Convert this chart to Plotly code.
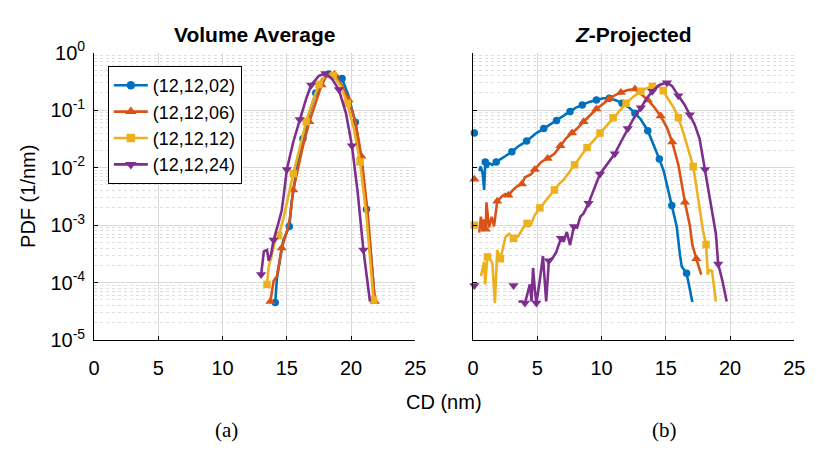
import plotly.graph_objects as go

# ---------------- data ----------------
names = ["(12,12,02)", "(12,12,06)", "(12,12,12)", "(12,12,24)"]
colors = ["#0072BD", "#D95319", "#EDB120", "#7E2F8E"]
symbols = ["circle", "triangle-up", "square", "triangle-down"]

x_ticks = [0, 5, 10, 15, 20, 25]
y_tickvals = [1e-5, 1e-4, 1e-3, 1e-2, 1e-1, 1]
y_ticktext = ["10<sup>-5</sup>", "10<sup>-4</sup>", "10<sup>-3</sup>",
              "10<sup>-2</sup>", "10<sup>-1</sup>", "10<sup>0</sup>"]

# (a) Volume Average
va_x_02 = [14.1, 14.23, 14.5, 14.73, 15.19, 15.37, 15.75, 16.25, 16.75, 17.25,
           17.75, 18.25, 18.75, 19.3, 19.8, 20.33, 20.8, 21.2, 21.5, 21.85]
va_y_02 = [4.5e-5, 1.2e-4, 2.8e-4, 5.5e-4, 9.5e-4, 2.5e-3, 8.9e-3, 0.032, 0.089, 0.2,
           0.347, 0.427, 0.417, 0.355, 0.178, 0.062, 0.0141, 0.0019, 4e-4, 4.7e-5]

va_x_06 = [13.72, 13.97, 14.23, 14.6, 14.95, 15.24, 15.5, 15.9, 16.26, 16.75,
           17.28, 17.7, 18.2, 18.7, 19.25, 19.8, 20.33, 20.8, 21.3, 21.85]
va_y_06 = [4.7e-5, 1.07e-4, 1.29e-4, 4e-4, 7.1e-4, 1.3e-3, 4.1e-3, 0.0112, 0.024, 0.063,
           0.138, 0.275, 0.437, 0.417, 0.282, 0.151, 0.065, 0.0158, 1.6e-3, 4.7e-5]

va_x_12 = [13.46, 13.59, 13.8, 14.1, 14.36, 14.73, 15.12, 15.5, 16.0, 16.5,
           17.0, 17.5, 18.1, 18.6, 19.2, 19.7, 20.2, 20.7, 21.2, 21.75]
va_y_12 = [9.3e-5, 1.9e-4, 2.8e-4, 5.5e-4, 6.6e-4, 1.3e-3, 3.2e-3, 7.9e-3, 0.022, 0.063,
           0.141, 0.282, 0.427, 0.398, 0.263, 0.132, 0.05, 0.0126, 1.4e-3, 5e-5]

va_x_24 = [13.0, 13.21, 13.46, 13.59, 13.77, 13.97, 14.36, 14.6, 14.75, 15.0, 15.5, 16.0,
           16.5, 16.9, 17.5, 18.0, 18.5, 19.05, 19.6, 20.07, 20.5, 20.96, 21.47]
va_y_24 = [1.38e-4, 3.5e-4, 3.7e-4, 2.4e-4, 3.1e-4, 5.5e-4, 1.12e-3, 1.8e-3, 3.2e-3, 9.3e-3,
           0.028, 0.069, 0.158, 0.275, 0.398, 0.437, 0.355, 0.229, 0.089, 0.024, 4e-3,
           3.7e-4, 4.7e-5]

# (b) Z-Projected  (None = empty bin, gap in line)
zp_x_02 = [0.1, None, 0.48, 0.6, 0.75, 0.86, 0.95, 1.1, 1.25, 1.5, 1.8, 2.13, 2.5, 3.02,
           3.5, 4.17, 4.5, 4.93, 5.5, 6.07, 6.5, 7.09, 7.55, 7.98, 8.5, 8.99, 9.6, 10.14,
           10.6, 11.15, 11.6, 12.17, 12.6, 13.06, 13.6, 14.07, 14.5, 14.84, 15.09, 15.47,
           15.85, 16.1, 16.24, 16.62, 16.87, 17.07]
zp_y_02 = [0.04, None, 0.0087, 0.0105, 0.0079, 0.0041, 0.0126, 0.01, 0.012, 0.0112, 0.0126,
           0.0138, 0.0158, 0.019, 0.0234, 0.029, 0.033, 0.040, 0.048, 0.058, 0.066, 0.083,
           0.095, 0.11, 0.123, 0.138, 0.151, 0.162, 0.162, 0.148, 0.132, 0.11, 0.089, 0.069,
           0.044, 0.025, 0.0141, 0.0087, 0.0051, 0.0022, 9.5e-4, 3.1e-4, 1.9e-4, 1.45e-4,
           7.2e-5, 4.6e-5]

zp_x_06 = [0.1, None, 0.48, 0.61, 0.74, 0.86, 0.99, 1.04, 1.24, 1.45, 1.63, 1.88, 2.26, 2.5,
           2.75, 3.02, 3.4, 3.8, 4.04, 4.5, 4.8, 5.31, 5.8, 6.33, 6.8, 7.22, 7.7, 8.1, 8.6,
           9.12, 9.6, 10.14, 10.6, 11.03, 11.5, 12.04, 12.6, 13.06, 13.6, 14.07, 14.6, 15.09,
           15.5, 15.98, 16.24, 16.49, 16.87, 17.07, 17.38, 17.76]
zp_y_06 = [0.0063, None, 7.4e-4, 1.4e-3, 7.9e-4, 1.26e-3, 8.5e-4, 2.5e-3, 9.1e-4, 1.4e-3,
           9.5e-4, 2.6e-3, 3.2e-3, 3.5e-3, 3.3e-3, 3.9e-3, 4.7e-3, 5.2e-3, 6.8e-3, 7.6e-3,
           9.3e-3, 0.0126, 0.0145, 0.0174, 0.024, 0.032, 0.040, 0.048, 0.063, 0.083, 0.105,
           0.130, 0.158, 0.182, 0.204, 0.224, 0.234, 0.191, 0.151, 0.115, 0.079, 0.050,
           0.028, 0.0112, 0.005, 0.0025, 0.001, 4.5e-4, 2.6e-4, 1.38e-4]

zp_x_12 = [0.1, None, 0.61, 0.86, 0.94, 1.12, 1.3, 1.5, 1.70, 1.88, 2.13, 2.52, 2.8, 3.15,
           3.5, 3.91, 4.2, 4.5, 4.8, 5.2, 5.56, 5.95, 6.33, 6.7, 7.09, 7.9, 8.4, 8.87, 9.4,
           9.88, 10.4, 10.9, 11.4, 11.91, 12.5, 13.06, 13.5, 13.95, 14.45, 14.8, 15.09, 15.6,
           15.98, 16.35, 16.74, 17.13, 17.38, 17.63, 17.9, 18.14, 18.27, 18.4, 18.6, 18.9]
zp_y_12 = [0.001, None, 1.29e-4, 2.3e-4, 9.3e-5, 2.8e-4, 2.6e-4, 2.2e-4, 4.4e-5, 3.7e-4,
           2.6e-4, 6.2e-4, 7.1e-4, 5.9e-4, 6.3e-4, 9.1e-4, 1.07e-3, 1.02e-3, 1.5e-3, 2e-3,
           2.5e-3, 3.2e-3, 4.1e-3, 5.2e-3, 6.3e-3, 0.0112, 0.0158, 0.0224, 0.030, 0.040,
           0.055, 0.074, 0.1, 0.132, 0.174, 0.214, 0.24, 0.26, 0.26, 0.219, 0.17, 0.112,
           0.074, 0.042, 0.021, 0.0105, 4.7e-3, 1.9e-3, 7.9e-4, 4.6e-4, 1.38e-4, 1.66e-4,
           1.6e-4, 4.7e-5]

zp_x_24 = [0.1, None, 3.15, None, 3.53, 3.8, 4.04, 4.42, 4.55, 4.67, 4.8, 4.93, 5.2, 5.44,
           5.69, 5.9, 6.2, 6.45, 6.84, 7.05, 7.3, 7.55, 7.85, 8.1, 8.35, 8.6, 8.99, 9.4, 9.88,
           10.4, 11.03, 11.5, 12.04, 12.5, 13.06, 13.5, 13.95, 14.5, 15.09, 15.5, 15.98,
           16.45, 16.87, 17.25, 17.63, 18.06, 18.52, 18.9, 19.08, 19.41, 19.74]
zp_y_24 = [8.9e-5, None, 8.9e-5, None, 4.7e-5, 4.7e-5, 4.4e-5, 9.3e-5, 4.7e-5, 1.8e-4,
           7.9e-5, 4.4e-5, 1.12e-4, 2.9e-4, 4.7e-5, 2.4e-4, 2.7e-4, 3.3e-4, 5.9e-4, 5.2e-4,
           7.6e-4, 4.5e-4, 9.5e-4, 9.1e-4, 1.4e-3, 1.6e-3, 2.4e-3, 4.2e-3, 7.8e-3, 0.0112,
           0.0174, 0.028, 0.048, 0.072, 0.11, 0.158, 0.214, 0.275, 0.302, 0.263, 0.178,
           0.126, 0.083, 0.056, 0.032, 9.3e-3, 2.5e-3, 7.1e-4, 2.1e-4, 1.07e-4, 4.7e-5]

va_data = [(va_x_02, va_y_02), (va_x_06, va_y_06), (va_x_12, va_y_12), (va_x_24, va_y_24)]
zp_data = [(zp_x_02, zp_y_02), (zp_x_06, zp_y_06), (zp_x_12, zp_y_12), (zp_x_24, zp_y_24)]

for xs, ys in va_data + zp_data:
    assert len(xs) == len(ys), (len(xs), len(ys))

# ---------------- styling helpers ----------------
FONT = "Liberation Sans, Arial, Helvetica, sans-serif"
SERIF = "Liberation Serif, Times New Roman, serif"
LW = 2.6
MSIZE = [7.5, 9, 7.5, 9]


def marker_indices(xs, step=0.85):
    """Pick roughly one marker per nm along a line, plus isolated points."""
    idx, last, n = [], None, len(xs)
    for i, x in enumerate(xs):
        if x is None:
            continue
        prev_gap = i == 0 or xs[i - 1] is None
        next_gap = i == n - 1 or xs[i + 1] is None
        if (prev_gap and next_gap) or last is None or x - last >= step:
            idx.append(i)
            last = x
    return idx


fig = go.Figure()

for panel, data in (("1", va_data), ("2", zp_data)):
    xa = "x" if panel == "1" else "x2"
    ya = "y" if panel == "1" else "y2"
    for k, (xs, ys) in enumerate(data):
        fig.add_trace(go.Scatter(
            x=xs, y=ys, mode="lines", xaxis=xa, yaxis=ya,
            line=dict(color=colors[k], width=LW), connectgaps=False,
            showlegend=False, hoverinfo="skip"))
        mi = marker_indices(xs)
        fig.add_trace(go.Scatter(
            x=[xs[i] for i in mi], y=[ys[i] for i in mi], mode="markers",
            xaxis=xa, yaxis=ya, cliponaxis=False,
            marker=dict(symbol=symbols[k], size=MSIZE[k], color=colors[k],
                        line=dict(width=0)),
            showlegend=False, hoverinfo="skip"))

# legend entries (key only)
for k in range(4):
    fig.add_trace(go.Scatter(
        x=[None], y=[None], mode="lines+markers", name=names[k],
        line=dict(color=colors[k], width=LW),
        marker=dict(symbol=symbols[k], size=MSIZE[k] + 1, color=colors[k]),
        xaxis="x", yaxis="y"))

W, H = 817, 456
xd1 = [90 / W, 418 / W]
xd2 = [477 / W, 805 / W]
yd = [1 - 345 / H, 1 - 41 / H]

xcommon = dict(range=[0, 25], tickvals=x_ticks, showgrid=True, gridcolor="#d9d9d9",
               gridwidth=1, zeroline=False, showline=True, linecolor="black",
               linewidth=1, ticks="inside", ticklen=4, tickcolor="black",
               tickfont=dict(size=20, color="black", family=FONT),
               ticklabelstandoff=10)
ycommon = dict(type="log", range=[-5, 0], tickvals=y_tickvals, ticktext=y_ticktext,
               showgrid=True, gridcolor="#d9d9d9", gridwidth=1, zeroline=False,
               showline=True, linecolor="black", linewidth=1, ticks="inside",
               ticklen=4, tickcolor="black",
               tickfont=dict(size=20, color="black", family=FONT),
               minor=dict(dtick="D1", showgrid=True, gridcolor="#dedede",
                          griddash="dot", gridwidth=1, ticks=""))

fig.update_layout(
    width=W, height=H, margin=dict(l=0, r=0, t=0, b=0),
    paper_bgcolor="white", plot_bgcolor="white",
    font=dict(family=FONT, size=19, color="black"),
    xaxis=dict(domain=xd1, anchor="y", **xcommon),
    xaxis2=dict(domain=xd2, anchor="y2", **xcommon),
    yaxis=dict(domain=yd, anchor="x", ticklabelstandoff=4, **ycommon),
    yaxis2=dict(domain=yd, anchor="x2", showticklabels=False, **ycommon),
    legend=dict(x=104 / W, y=1 - 55 / H, xanchor="left", yanchor="top",
                bgcolor="white", bordercolor="black", borderwidth=1,
                font=dict(size=18, family=FONT, color="black"),
                tracegroupgap=0, itemwidth=34),
    showlegend=True,
)

ann = [
    dict(text="<b>Volume Average</b>", x=254 / W, y=1 - 22 / H, size=21, fam=FONT, ang=0),
    dict(text="<b><i>Z</i>-Projected</b>", x=641 / W, y=1 - 22 / H, size=21, fam=FONT, ang=0),
    dict(text="PDF (1/nm)", x=23 / W, y=1 - 193 / H, size=20, fam=FONT, ang=-90),
    dict(text="CD (nm)", x=447 / W, y=1 - 410 / H, size=20, fam=FONT, ang=0),
    dict(text="(a)", x=225 / W, y=1 - 440 / H, size=21, fam=SERIF, ang=0),
    dict(text="(b)", x=672 / W, y=1 - 440 / H, size=21, fam=SERIF, ang=0),
]
for a in ann:
    fig.add_annotation(text=a["text"], x=a["x"], y=a["y"], xref="paper", yref="paper",
                       xanchor="center", yanchor="middle", showarrow=False,
                       textangle=a["ang"],
                       font=dict(size=a["size"], family=a["fam"], color="black"))

fig.write_html("out.html")
